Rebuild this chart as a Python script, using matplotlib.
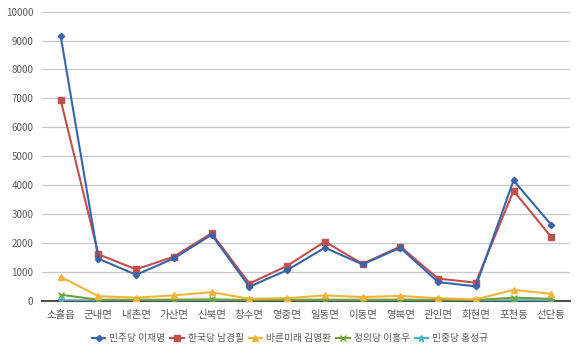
import matplotlib
matplotlib.use("Agg")
import matplotlib.pyplot as plt
from matplotlib.lines import Line2D

plt.rcParams['font.family'] = ['Noto Sans CJK KR', 'DejaVu Sans']

categories = ['소흘읍', '군내면', '내촌면', '가산면', '신북면', '창수면', '영중면',
              '일동면', '이동면', '영북면', '관인면', '화현면', '포천동', '선단동']
minju = [9170, 1450, 890, 1460, 2280, 480, 1050, 1830, 1250, 1830, 640, 490, 4160, 2620]
hanguk = [6950, 1600, 1080, 1520, 2330, 590, 1200, 2040, 1270, 1870, 760, 620, 3800, 2200]
bareun = [820, 150, 100, 180, 290, 60, 80, 180, 120, 160, 80, 40, 370, 230]
jeongui = [200, 30, 25, 30, 40, 20, 25, 30, 25, 30, 20, 15, 100, 60]
minjung = [8, 4, 3, 4, 6, 3, 4, 5, 4, 5, 3, 2, 10, 8]
series_names = ['민주당 이재명', '한국당 남경필', '바른미래 김영환', '정의당 이흥우', '민중당 홍성규']
yticks = list(range(0, 10001, 1000))

colors = ['#3A64A8', '#C0504D', '#F0B43C', '#6FA03A', '#4BACC6']
markers = ['D', 's', '^', 'x', '*']
msizes = [3.2, 4.5, 4.5, 4.5, 4.5]

fig = plt.figure(figsize=(5.8, 3.54), dpi=100)
ax = fig.add_axes([0.072, 0.151, 0.911, 0.816])

x = list(range(len(categories)))
data = [minju, hanguk, bareun, jeongui, minjung]
for i in reversed(range(5)):
    ax.plot(x, data[i], color=colors[i], lw=1.5, marker=markers[i], ms=msizes[i],
            mec=colors[i], mfc=colors[i], mew=1.0, zorder=3 + (5 - i))

ax.set_xlim(-0.5, len(categories) - 0.5)
ax.set_ylim(0, 10000)
ax.set_yticks(yticks)
ax.set_yticklabels([str(v) for v in yticks], fontsize=7, color='#595959')
ax.set_xticks(x)
ax.set_xticklabels(categories, fontsize=7.5, color='#595959')
ax.grid(axis='y', color='#C8C8C8', lw=0.9)
ax.set_axisbelow(True)
for s in ['top', 'right', 'left']:
    ax.spines[s].set_visible(False)
ax.spines['bottom'].set_color('#505050')
ax.spines['bottom'].set_linewidth(1.5)
ax.tick_params(axis='y', length=0, pad=6)
ax.tick_params(axis='x', length=0, pad=7)

handles = [Line2D([0], [0], color=colors[i], lw=1.5, marker=markers[i], ms=msizes[i],
                  mec=colors[i], mfc=colors[i]) for i in range(5)]
fig.legend(handles, series_names, loc='center', bbox_to_anchor=(0.5, 0.045), ncol=5,
           frameon=False, fontsize=7, handlelength=1.4, handletextpad=0.4,
           columnspacing=0.5, labelcolor='#595959')

fig.savefig('out.png', dpi=100)
